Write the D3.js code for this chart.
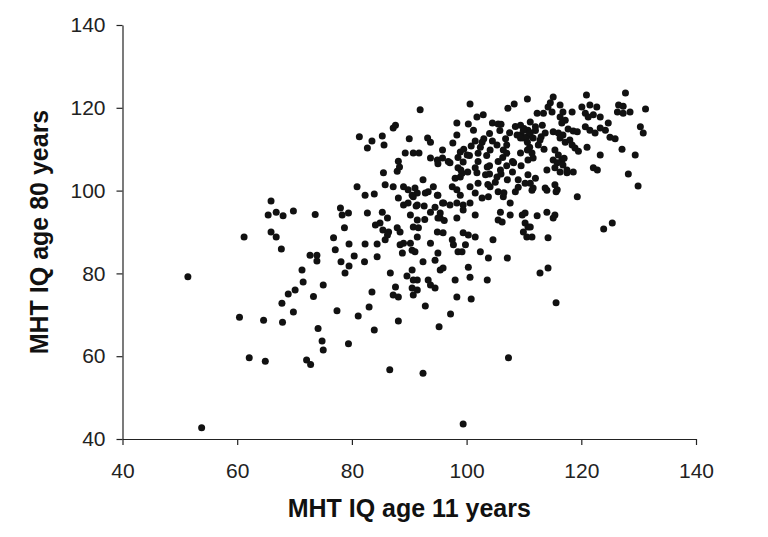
<!DOCTYPE html>
<html>
<head>
<meta charset="utf-8">
<script src="https://cdn.jsdelivr.net/npm/d3@7"></script>
<style>
body { margin: 0; background: #fff; }
text { font-family: "Liberation Sans", Arial, sans-serif; }
</style>
</head>
<body>
<script>

// tick values and titles
var xTicks = [40, 60, 80, 100, 120, 140];
var yTicks = [40, 60, 80, 100, 120, 140];
var xTitle = "MHT IQ age 11 years";
var yTitle = "MHT IQ age 80 years";

// [IQ age 11, IQ age 80]
var scores = [
  [51.4,79.2],[53.8,42.7],[60.4,69.4],[61.2,88.8],[62.1,59.6],[64.6,68.7],[64.9,58.8],[65.4,94.1],
  [65.9,97.5],[66.8,94.8],[68.0,93.9],[69.8,95.1],[65.9,90.0],[66.8,88.8],[67.7,85.9],[67.8,72.8],
  [67.9,68.2],[68.9,75.0],[70.1,76.0],[69.8,70.7],[71.3,80.8],[71.5,77.9],[72.1,59.1],[72.8,58.0],
  [72.7,84.4],[73.9,84.4],[73.9,83.0],[73.6,94.2],[73.3,74.4],[74.1,66.7],[74.8,63.7],[75.0,61.5],
  [75.0,77.2],[76.8,88.6],[77.1,85.7],[77.4,71.0],[78.0,95.8],[78.3,94.1],[79.4,94.6],[78.7,91.0],
  [78.1,82.8],[78.8,80.1],[79.5,87.1],[79.5,81.8],[79.4,63.0],[80.4,84.2],[80.9,100.9],[81.1,69.7],
  [81.3,113.0],[82.3,87.1],[82.2,82.8],[82.3,98.9],[82.7,94.6],[82.7,110.3],[83.0,71.9],[83.5,112.0],
  [83.9,99.2],[83.5,75.5],[83.9,66.3],[84.1,91.7],[84.4,87.1],[84.4,84.0],[84.9,92.2],[85.3,94.8],
  [85.3,113.2],[85.6,111.0],[85.4,90.5],[85.5,104.3],[85.8,101.4],[85.8,88.1],[86.2,93.4],[86.4,90.0],
  [86.2,89.3],[86.7,80.1],[86.6,56.7],[87.2,100.9],[87.2,115.1],[87.6,115.8],[87.2,74.8],[87.6,76.7],
  [87.9,104.7],[88.1,107.1],[88.3,105.7],[88.1,98.2],[87.9,91.0],[88.4,90.0],[88.1,74.3],[88.1,68.5],
  [89.0,87.3],[88.8,84.9],[88.4,86.9],[89.0,96.5],[89.8,97.0],[89.0,100.9],[89.8,100.2],[89.3,109.1],
  [90.0,112.5],[90.7,109.1],[91.7,109.1],[90.7,98.5],[91.4,99.4],[91.0,100.6],[90.5,98.9],[90.2,94.1],
  [91.4,92.9],[90.7,91.2],[91.6,91.0],[90.2,87.3],[90.5,85.6],[91.0,85.2],[90.5,80.8],[90.5,76.5],
  [91.4,76.0],[90.7,74.8],[91.9,119.5],[89.6,79.4],[91.4,78.4],[93.3,78.4],[93.7,77.2],[94.5,76.5],
  [92.4,82.8],[93.7,87.3],[94.5,83.2],[95.4,80.8],[95.9,81.3],[92.8,72.1],[92.4,55.9],[95.2,67.1],
  [97.2,70.2],[98.3,74.3],[100.8,73.8],[98.0,78.4],[100.6,79.1],[100.3,81.5],[102.4,85.2],[103.8,83.7],
  [103.6,78.4],[107.1,83.7],[104.6,88.1],[99.4,43.6],[107.3,59.6],[93.7,94.8],[94.5,96.0],[95.0,93.4],
  [94.9,90.0],[95.9,89.8],[95.0,84.9],[97.5,88.1],[97.7,86.9],[99.4,89.8],[100.3,89.3],[101.5,88.8],
  [99.8,86.9],[98.5,85.2],[99.2,85.2],[98.3,93.4],[101.5,94.1],[92.4,102.6],[94.2,100.9],[92.8,99.4],
  [95.0,98.9],[97.5,100.9],[98.3,100.2],[100.6,100.9],[102.0,101.8],[104.1,100.9],[105.3,103.3],[107.1,102.6],
  [109.0,102.6],[110.7,103.8],[103.6,105.7],[105.9,105.0],[101.8,104.3],[98.5,105.5],[98.9,103.3],[97.1,106.7],
  [93.7,107.9],[94.9,107.4],[95.8,107.9],[98.9,109.3],[100.1,108.6],[99.4,106.9],[102.7,111.7],[102.4,110.5],
  [105.3,111.0],[104.1,109.8],[106.4,109.8],[108.8,113.4],[109.9,112.7],[110.7,114.6],[109.4,109.1],[108.2,106.7],
  [95.8,109.8],[93.2,112.7],[93.7,111.7],[97.6,111.5],[98.3,113.4],[98.3,116.3],[100.3,116.1],[101.2,114.6],
  [104.5,116.3],[105.5,116.1],[109.4,115.8],[101.8,117.8],[102.9,118.3],[100.6,120.9],[108.3,120.9],[107.2,119.9],
  [110.6,122.1],[105.5,99.7],[106.4,98.5],[107.6,97.0],[108.5,99.7],[107.6,94.1],[109.7,94.1],[110.2,92.2],
  [109.9,90.0],[110.5,88.8],[110.7,91.2],[105.9,94.8],[105.5,92.9],[106.2,92.4],[91.4,96.5],[93.3,99.7],
  [94.9,98.9],[95.8,97.0],[95.4,93.4],[96.0,97.0],[97.1,96.5],[98.3,97.0],[99.4,96.5],[100.6,97.0],
  [98.9,98.9],[101.5,99.4],[102.7,98.2],[103.8,98.5],[99.4,95.3],[95.4,94.6],[91.4,88.8],[90.7,78.4],
  [92.6,96.3],[92.7,93.0],[91.2,96.3],[96.1,92.8],[95.0,106.5],[103.3,103.8],[103.7,101.5],[104.0,104.0],
  [105.0,102.0],[106.0,104.0],[106.5,99.5],[107.0,106.0],[108.0,104.5],[109.0,100.8],[109.5,106.0],[107.0,109.0],
  [107.0,111.0],[108.0,107.0],[106.3,108.0],[105.5,107.0],[104.0,106.0],[103.5,108.5],[102.0,107.0],[102.0,109.0],
  [101.5,105.5],[100.5,108.5],[100.2,104.5],[99.2,104.2],[99.0,105.0],[98.5,108.0],[98.0,103.0],[96.8,107.0],
  [105.8,114.5],[106.0,116.0],[107.5,114.0],[108.5,115.5],[109.5,113.5],[110.0,115.0],[110.5,113.0],[111.0,114.0],
  [111.0,110.5],[112.0,114.5],[112.5,111.0],[113.0,113.0],[113.5,110.0],[104.5,112.0],[103.0,112.5],[101.5,112.0],
  [99.5,110.0],[100.8,110.8],[104.0,113.8],[106.8,112.5],[111.1,116.6],[109.9,114.6],[111.1,113.9],[112.0,115.4],
  [113.2,115.8],[113.7,113.9],[109.4,112.7],[110.6,111.7],[111.6,112.7],[112.8,112.2],[110.6,109.8],[111.4,109.1],
  [110.7,107.4],[111.6,107.9],[115.4,109.8],[116.0,108.6],[115.1,107.4],[116.6,107.4],[115.8,106.7],[116.8,106.2],
  [117.2,111.7],[118.0,112.2],[118.4,111.0],[118.9,110.3],[115.4,105.5],[116.3,104.5],[117.5,104.3],[118.6,104.5],
  [114.0,105.0],[112.0,103.0],[111.1,101.8],[111.6,100.6],[110.2,101.8],[115.4,101.4],[115.8,100.2],[113.7,100.6],
  [112.3,118.7],[113.4,118.7],[118.4,119.0],[116.8,119.0],[116.3,117.8],[114.9,119.0],[114.2,120.2],[114.6,121.2],
  [116.3,120.7],[117.2,117.0],[116.6,116.3],[117.7,114.9],[116.8,113.4],[115.1,114.2],[116.0,113.9],[116.3,112.7],
  [115.1,122.6],[120.9,123.1],[127.7,123.6],[131.2,119.7],[126.5,120.7],[127.3,120.4],[126.3,119.0],[127.3,118.7],
  [128.5,119.0],[130.3,115.4],[130.8,113.9],[129.4,108.6],[127.1,110.0],[128.2,104.0],[129.9,101.1],[123.3,108.6],
  [122.1,105.5],[122.8,105.0],[119.3,98.5],[121.0,110.5],[118.6,114.4],[119.3,114.2],[120.1,120.2],[121.5,120.7],
  [122.7,120.2],[120.7,115.4],[121.5,114.6],[122.4,113.9],[123.3,115.1],[124.2,114.6],[125.0,112.9],[125.9,112.5],
  [124.7,116.3],[120.7,118.7],[121.2,117.8],[122.1,118.3],[123.3,117.8],[123.9,90.7],[125.4,92.2],[112.8,80.1],
  [114.2,81.3],[115.6,72.9],[110.2,94.6],[112.3,93.9],[114.0,94.8],[115.4,94.1],[115.1,93.4],[111.1,91.2],
  [111.4,88.8],[114.2,88.6],[111.4,100.1],[114.0,100.1],[115.6,99.7],[117.0,107.8],[119.5,109.5],[117.5,105.0]
];

var width = 768,
    height = 537;

var svg = d3.select("body").append("svg")
    .attr("width", width)
    .attr("height", height);

var x = d3.scaleLinear().domain([40, 140]).range([122.5, 696]),
    y = d3.scaleLinear().domain([40, 140]).range([439, 25]);

// x axis
var gx = svg.append("g")
    .attr("transform", "translate(0," + y(40) + ")")
    .call(d3.axisBottom(x).tickValues(xTicks).tickSize(6).tickSizeOuter(0).tickPadding(18));

// y axis
var gy = svg.append("g")
    .attr("transform", "translate(" + x(40) + ",0)")
    .call(d3.axisLeft(y).tickValues(yTicks).tickSize(6).tickSizeOuter(0).tickPadding(11));

svg.selectAll(".domain, .tick line")
    .attr("stroke", "#222")
    .attr("stroke-width", 1.2);

svg.selectAll(".tick text")
    .attr("fill", "#222")
    .style("font-size", "21px");

// axis titles
svg.append("text")
    .attr("x", (x(40) + x(140)) / 2)
    .attr("y", 517)
    .attr("text-anchor", "middle")
    .attr("fill", "#111")
    .style("font-size", "25px")
    .style("font-weight", "bold")
    .text(xTitle);

svg.append("text")
    .attr("transform", "translate(48," + (y(40) + y(140)) / 2 + ") rotate(-90)")
    .attr("text-anchor", "middle")
    .attr("fill", "#111")
    .style("font-size", "25px")
    .style("font-weight", "bold")
    .text(yTitle);

// points
svg.append("g").selectAll("circle")
    .data(scores)
    .enter().append("circle")
    .attr("cx", function(d) { return x(d[0]); })
    .attr("cy", function(d) { return y(d[1]); })
    .attr("r", 3.5)
    .attr("fill", "#111");

</script>
</body>
</html>
